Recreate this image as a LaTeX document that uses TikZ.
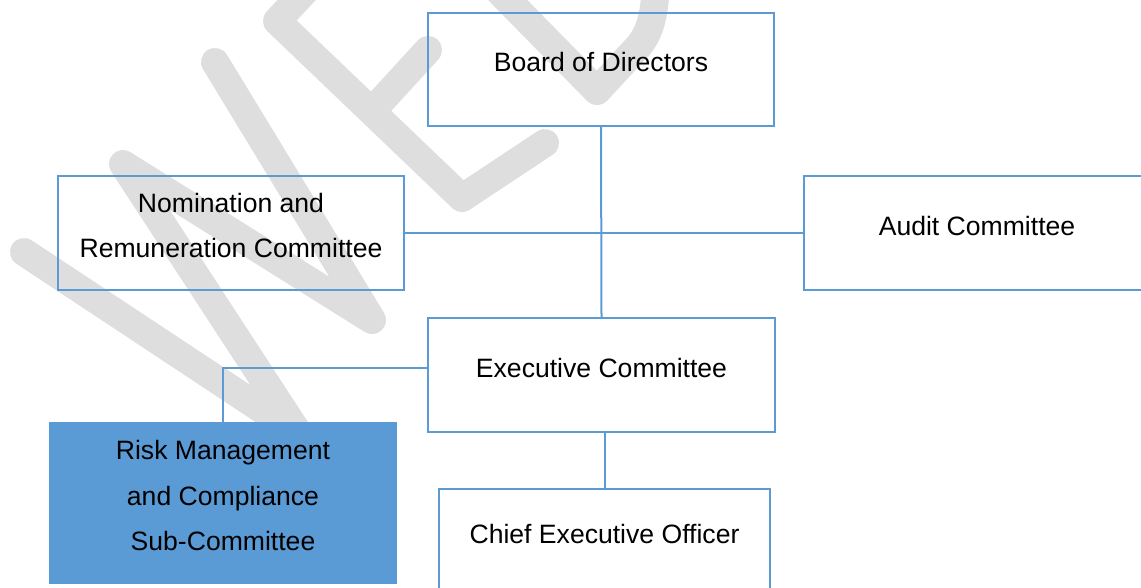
\documentclass[tikz,border=0pt]{standalone}
\usepackage{fontspec}
\setmainfont{Liberation Sans}
\usepackage{tikz}
\usetikzlibrary{calc}
\definecolor{orgblue}{HTML}{5B9BD5}
\definecolor{wmgray}{HTML}{DEDEDE}
\tikzstyle{box} = [rectangle, draw=orgblue, line width=0.05cm, minimum width=8.65cm, minimum height=2.825cm, inner sep=0pt]
\tikzstyle{txt} = [align=center, font=\fontsize{18.9}{32.7}\selectfont, inner sep=0pt, yshift=0.1875cm]
\tikzstyle{link} = [draw=orgblue, line width=0.05cm]
\tikzstyle{wm} = [draw=wmgray, line width=0.7cm, line cap=round, line join=round]

\begin{document}
\begin{tikzpicture}[x=0.025cm, y=-0.025cm]
      \useasboundingbox (0,0) rectangle (1141,587);
      \clip (0,0) rectangle (1141,587);

      % Watermark
      \draw[wm] (24,252) -- (299,434) -- (123,164) -- (372,320) -- (215,62);
      \draw[wm] (320,-25) -- (277,21) -- (462,198) -- (545,143);
      \draw[wm] (373,110) -- (428,50);
      \draw[wm] (490,-18) -- (597,91) -- (635,50) .. controls (650,35) and (655,15) .. (656,-20);

      % Nodes
      \node[box, label={[txt]center:Board of Directors}] (Board) at (601,69.5) {};
      \node[box, label={[txt]center:Nomination and\\Remuneration Committee}] (NomRem) at (231,233) {};
      \node[box, label={[txt]center:Audit Committee}] (Audit) at (977,233) {};
      \node[box, label={[txt]center:Executive Committee}] (Exec) at (601.5,375) {};
      \node[box, fill=orgblue, minimum height=4cm, label={[txt]center:Risk Management\\and Compliance\\Sub-Committee}] (Risk) at (223,503) {};
      \node[box, minimum width=8.275cm, minimum height=2.6cm, label={[txt]center:Chief Executive Officer}] (CEO) at (604.5,541) {};

      % Edges
      \draw[link] (Board.south) -- (Exec.north);
      \draw[link] (NomRem.east) -- (Audit.west);
      \draw[link] ([yshift=0.1875cm]Exec.west) -| (Risk.north);
      \draw[link] (Exec.south -| CEO.north) -- (CEO.north);
  \end{tikzpicture}
\end{document}
